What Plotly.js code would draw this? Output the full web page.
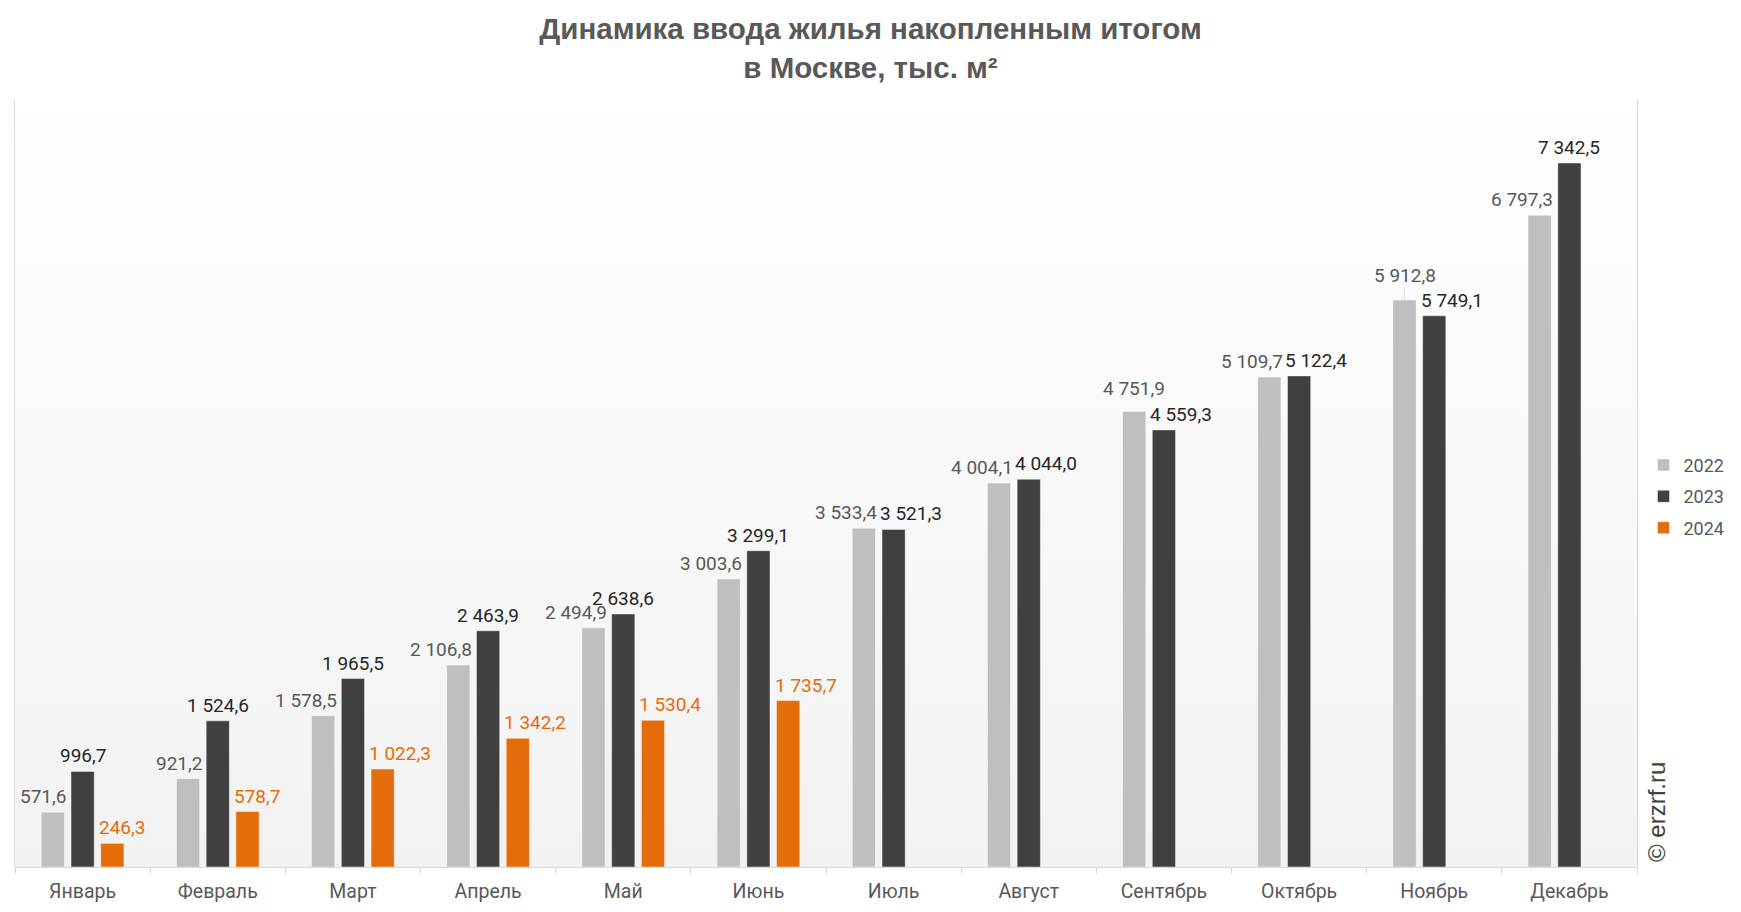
<!DOCTYPE html>
<html>
<head>
<meta charset="utf-8">
<script src="https://cdn.plot.ly/plotly-3.0.1.min.js"></script>
<style>html,body{margin:0;padding:0;background:#fff}#chart{width:1741px;height:912px}</style>
</head>
<body>
<div id="chart"></div>
<script>
// ---- data ----
const months = ['Январь','Февраль','Март','Апрель','Май','Июнь','Июль','Август','Сентябрь','Октябрь','Ноябрь','Декабрь'];
const years = ['2022','2023','2024'];
const v2022 = [571.6, 921.2, 1578.5, 2106.8, 2494.9, 3003.6, 3533.4, 4004.1, 4751.9, 5109.7, 5912.8, 6797.3];
const v2023 = [996.7, 1524.6, 1965.5, 2463.9, 2638.6, 3299.1, 3521.3, 4044.0, 4559.3, 5122.4, 5749.1, 7342.5];
const v2024 = [246.3, 578.7, 1022.3, 1342.2, 1530.4, 1735.7, null, null, null, null, null, null];
const titleText = 'Динамика ввода жилья накопленным итогом<br>в Москве, тыс. м²';
const watermark = '© erzrf.ru';

// ---- styles ----
const colors = ['#bfbfbf', '#404040', '#e46c0a'];
const labelColors = ['#595959', '#262626', '#e46c0a'];
const bargap = 0.34, bargroupgap = 0.22;
// label alignment per month: r = right-aligned to bar edge, c = centered, l = left-aligned
const align22 = ['r','r','r','r','r','r','r','r','c','r','c','r'];
const align23 = ['c','c','c','c','c','c','l','l','l','l','l','c'];
const align24 = ['l','l','l','l','l','l','l','l','l','l','l','l'];
const lift22 = {8: 7, 10: 9};      // extra raise (px) of some 2022 labels
const leader22 = {10: true};       // leader line

function fmt(v) {
  const s = v.toFixed(1).split('.');
  const int = s[0].replace(/\B(?=(\d{3})+(?!\d))/g, ' ');
  return int + ',' + s[1];
}

const series = [v2022, v2023, v2024];
const traces = series.map((vals, k) => ({
  type: 'bar',
  name: years[k],
  legendgroup: years[k],
  x: months,
  y: vals,
  marker: {color: colors[k], line: {width: 1, color: 'rgba(255,255,255,0.45)'}},
  hoverinfo: 'skip'
}));

const slot = (1 - bargap) / 3;
const barHalf = slot * (1 - bargroupgap) / 2;
const aligns = [align22, align23, align24];
const annotations = [];
series.forEach((vals, k) => {
  vals.forEach((v, i) => {
    if (v === null) return;
    const center = i + (k - 1) * slot;
    const a = aligns[k][i];
    let x = center, xanchor = 'center', xshift = 0;
    if (a === 'r') { x = center + barHalf; xanchor = 'right'; xshift = 4; }
    if (a === 'l') { x = center - barHalf; xanchor = 'left'; xshift = -4; }
    const lift = (k === 0 && lift22[i]) ? lift22[i] : 0;
    const ann = {
      xref: 'x', yref: 'y', x: x, y: v,
      text: fmt(v), xanchor: xanchor, yanchor: 'bottom',
      xshift: xshift, yshift: 2 + lift,
      showarrow: false,
      font: {family: 'Roboto, sans-serif', size: 19, color: labelColors[k]}
    };
    if (k === 0 && leader22[i]) {
      ann.showarrow = true; ann.arrowhead = 0; ann.arrowwidth = 1;
      ann.arrowcolor = '#d9d9d9'; ann.ax = 0; ann.ay = -(2 + lift);
      ann.yshift = 0; ann.standoff = 0;
    }
    annotations.push(ann);
  });
});

annotations.push({
  xref: 'paper', yref: 'paper', x: 1.0125, y: 0.072,
  xanchor: 'center', yanchor: 'middle', textangle: -90,
  text: watermark, showarrow: false,
  font: {family: 'Liberation Sans, Arial, sans-serif', size: 24, color: '#404040'}
});

const svg = "<svg xmlns='http://www.w3.org/2000/svg' width='10' height='100' preserveAspectRatio='none'>" +
  "<defs><linearGradient id='g' x1='0' y1='0' x2='0' y2='1'>" +
  "<stop offset='0' stop-color='#ffffff'/><stop offset='1' stop-color='#f2f2f2'/>" +
  "</linearGradient></defs><rect width='10' height='100' fill='url(#g)'/></svg>";

const layout = {
  width: 1741, height: 912,
  margin: {l: 15, r: 97, t: 100, b: 45},
  paper_bgcolor: '#ffffff',
  plot_bgcolor: 'rgba(0,0,0,0)',
  barmode: 'group',
  bargap: bargap, bargroupgap: bargroupgap,
  title: {
    text: titleText, x: 0.5, xref: 'container', xanchor: 'center',
    y: 0.957, yref: 'container', yanchor: 'middle',
    font: {family: 'Liberation Sans, Arial, sans-serif', size: 29.5, color: '#595959', weight: 'bold'}
  },
  xaxis: {
    type: 'category',
    showline: true, linecolor: '#d9d9d9', linewidth: 1,
    ticks: 'outside', tickson: 'boundaries', ticklen: 6, tickcolor: '#d9d9d9',
    showgrid: false, zeroline: false,
    tickfont: {family: 'Roboto, sans-serif', size: 19.5, color: '#595959'},
    ticklabelstandoff: 7,
    fixedrange: true
  },
  yaxis: {
    range: [0, 8000],
    showline: true, mirror: true, linecolor: '#d9d9d9', linewidth: 1,
    showticklabels: false, ticks: '', showgrid: false, zeroline: false,
    fixedrange: true
  },
  legend: {
    x: 1.004, xref: 'paper', xanchor: 'left',
    y: 0.548, yref: 'paper', yanchor: 'top',
    font: {family: 'Roboto, sans-serif', size: 18, color: '#595959'},
    bgcolor: 'rgba(0,0,0,0)', tracegroupgap: 5
  },
  images: [{
    source: 'data:image/svg+xml;base64,' + btoa(svg),
    xref: 'paper', yref: 'paper', x: 0, y: 1, sizex: 1, sizey: 1,
    xanchor: 'left', yanchor: 'top', sizing: 'stretch', layer: 'below'
  }],
  annotations: annotations,
  showlegend: true
};

Plotly.newPlot('chart', traces, layout, {displayModeBar: false, staticPlot: true});
</script>
</body>
</html>
